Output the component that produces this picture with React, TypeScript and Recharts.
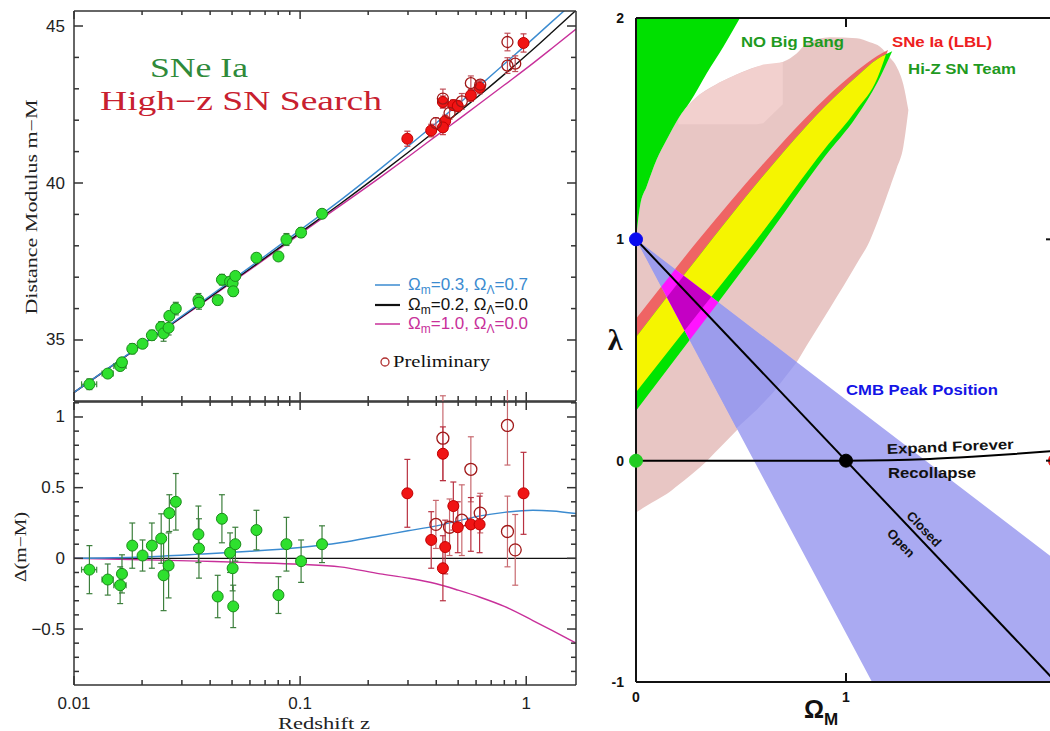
import React from "react";
import { ComposedChart, Line, Scatter, Area, XAxis, YAxis, ErrorBar } from "recharts";

// ---------- left: Hubble diagram ----------
// model curves
const modelZ = [0.01, 0.02, 0.036, 0.06, 0.1, 0.15, 0.226, 0.3, 0.4, 0.5, 0.625, 0.8, 1.07, 1.3, 1.66];
const muLambda = [33.33, 34.86, 36.17, 37.32, 38.5, 39.44, 40.45, 41.17, 41.91, 42.51, 43.11, 43.79, 44.59, 45.14, 45.82];
const muOpen = [33.33, 34.85, 36.14, 37.27, 38.42, 39.33, 40.29, 40.97, 41.68, 42.24, 42.81, 43.46, 44.25, 44.8, 45.5];
const muFlat = [33.33, 34.84, 36.12, 37.24, 38.38, 39.27, 40.18, 40.83, 41.5, 42.02, 42.54, 43.12, 43.81, 44.29, 44.9];
const resLambda = [0, 0.01, 0.03, 0.05, 0.077, 0.11, 0.16, 0.195, 0.23, 0.265, 0.3, 0.325, 0.34, 0.335, 0.317];
const resFlat = [0, -0.01, -0.02, -0.03, -0.042, -0.06, -0.11, -0.14, -0.18, -0.225, -0.275, -0.34, -0.44, -0.51, -0.6];
const resOpenZ = [0.01, 1.66];
const resOpen = [0, 0];

// low-z supernovae (green)
const lowZ = [0.0117, 0.0141, 0.016, 0.0163, 0.0181, 0.0201, 0.0221, 0.0243, 0.0249, 0.0262, 0.0264, 0.0282, 0.0355, 0.0357, 0.0432, 0.0451, 0.049, 0.0503, 0.0506, 0.0517, 0.0641, 0.0802, 0.087, 0.101, 0.125];
const lowMu = [33.59, 33.93, 34.17, 34.29, 34.72, 34.88, 35.15, 35.41, 35.21, 35.39, 35.77, 36.0, 36.28, 36.19, 36.27, 36.92, 36.86, 36.81, 36.55, 37.04, 37.62, 37.66, 38.2, 38.42, 39.02];
const lowRes = [-0.08, -0.15, -0.19, -0.11, 0.09, 0.02, 0.09, 0.14, -0.12, -0.05, 0.32, 0.4, 0.17, 0.07, -0.27, 0.28, 0.04, -0.07, -0.34, 0.1, 0.2, -0.26, 0.1, -0.02, 0.1];
const lowErr = [0.17, 0.11, 0.13, 0.135, 0.16, 0.11, 0.16, 0.175, 0.25, 0.23, 0.13, 0.2, 0.2, 0.21, 0.15, 0.17, 0.14, 0.16, 0.15, 0.12, 0.14, 0.13, 0.19, 0.15, 0.13];
// the three nearest ones also carry redshift error bars
const nearZ = [0.0117, 0.0141, 0.016];
const nearMu = [33.59, 33.93, 34.17];
const nearRes = [-0.08, -0.15, -0.19];
const nearZErr = [0.0009, 0.0008, 0.001];

// high-z supernovae (red, filled)
const hiZ = [0.298, 0.38, 0.428, 0.438, 0.428, 0.476, 0.498, 0.569, 0.622, 0.973];
const hiMu = [41.41, 41.67, 42.58, 41.97, 41.77, 42.48, 42.45, 42.79, 43.04, 44.46];
const hiRes = [0.46, 0.13, 0.74, 0.08, -0.07, 0.37, 0.22, 0.24, 0.24, 0.46];
const hiErr = [0.24, 0.2, 0.19, 0.19, 0.23, 0.17, 0.18, 0.19, 0.2, 0.29];

// preliminary high-z (open circles)
const preZ = [0.3985, 0.428, 0.458, 0.519, 0.569, 0.626, 0.826, 0.826, 0.894];
const preMu = [41.91, 42.69, 42.23, 42.6, 43.18, 43.13, 44.49, 43.74, 43.8];
const preRes = [0.24, 0.85, 0.22, 0.27, 0.63, 0.32, 0.94, 0.19, 0.06];
const preErr = [0.17, 0.3, 0.2, 0.25, 0.23, 0.14, 0.28, 0.25, 0.25];

const zTicks = [0.01, 0.02, 0.03, 0.04, 0.05, 0.06, 0.07, 0.08, 0.09, 0.1, 0.2, 0.3, 0.4, 0.5, 0.6, 0.7, 0.8, 0.9, 1];
const zLabels = [0.01, 0.1, 1];
const muTicks = [34, 35, 36, 37, 38, 39, 40, 41, 42, 43, 44, 45];
const muLabels = [35, 40, 45];
const resTicks = [-0.8, -0.7, -0.6, -0.5, -0.4, -0.3, -0.2, -0.1, 0, 0.1, 0.2, 0.3, 0.4, 0.5, 0.6, 0.7, 0.8, 0.9, 1, 1.1];
const resLabels = [-0.5, 0, 0.5, 1];

// ---------- right: Omega_M / lambda plane ----------
const pinkX = [0, 0.019, 0.051, 0.098, 0.146, 0.2016, 0.257, 0.305, 0.4, 0.479, 0.575, 0.654, 0.701, 0.765, 0.813, 0.924, 1.051, 1.114, 1.162, 1.21, 1.241, 1.273, 1.297];
const pinkLo = [-0.234, -0.223, -0.204, -0.178, -0.151, -0.11, -0.068, -0.03, 0.06, 0.136, 0.23, 0.309, 0.37, 0.445, 0.52, 0.69, 0.89, 0.995, 1.11, 1.237, 1.32, 1.418, 1.584];
const pinkHi = [1.0, 1.15, 1.24, 1.36, 1.45, 1.546, 1.614, 1.655, 1.71, 1.745, 1.78, 1.79, 1.802, 1.84, 1.885, 1.913, 1.908, 1.89, 1.87, 1.82, 1.78, 1.7, 1.584];
const paleX = [0.2016, 0.257, 0.305, 0.4, 0.479, 0.575, 0.606, 0.699];
const paleLo = [1.52, 1.52, 1.52, 1.52, 1.52, 1.52, 1.525, 1.61];
const paleHi = [1.546, 1.614, 1.655, 1.71, 1.745, 1.78, 1.79, 1.8];
const noBangX = [0, 0.019, 0.051, 0.098, 0.146, 0.2016, 0.257, 0.337, 0.416, 0.495];
const noBangLo = [1.0, 1.15, 1.24, 1.36, 1.45, 1.546, 1.62, 1.75, 1.87, 2.0];
const noBangHi = [2, 2, 2, 2, 2, 2, 2, 2, 2, 2];
const lblX = [0, 0.3, 0.6, 0.9, 1.05, 1.15, 1.2];
const lblLo = [0.309, 0.67, 1.03, 1.41, 1.585, 1.73, 1.855];
const lblHi = [0.641, 1.0, 1.335, 1.635, 1.76, 1.83, 1.855];
const hizX = [0, 0.3, 0.6, 0.9, 1.05, 1.15, 1.22];
const hizLo = [0.226, 0.6, 0.98, 1.375, 1.555, 1.71, 1.85];
const hizHi = [0.558, 0.925, 1.28, 1.6, 1.735, 1.815, 1.85];
const bothX = [0, 0.3, 0.6, 0.9, 1.05, 1.15, 1.19];
const bothLo = [0.309, 0.67, 1.03, 1.41, 1.585, 1.73, 1.835];
const bothHi = [0.558, 0.925, 1.28, 1.6, 1.735, 1.815, 1.835];
const cmbX = [0, 1.124, 2];
const cmbLo = [1, -1, -1];
const cmbHi = [1, 0.185, -0.45];
const cmbDeepX = [0, 0.479, 0.575, 0.654, 0.765];
const cmbDeepLo = [1, 0.147, 0.23, 0.309, 0.445];
const cmbDeepHi = [1, 0.653, 0.583, 0.526, 0.445];
const overlapX = [0.1205, 0.1865, 0.2557, 0.3925];
const overlapLo = [0.7855, 0.668, 0.545, 0.7154];
const overlapHi = [0.7855, 0.8648, 0.8146, 0.7154];
const coreX = [0.1472, 0.2269, 0.2316, 0.3584];
const coreLo = [0.738, 0.5961, 0.5877, 0.7402];
const coreHi = [0.738, 0.8355, 0.8321, 0.7402];
const flatX = [0, 2];
const flatY = [1, -1];
const foreverX = [0, 1, 1.2, 1.4, 1.6, 1.8, 2];
const foreverY = [0, 0, 0.002, 0.008, 0.018, 0.03, 0.045];

const SANS = "'Liberation Sans', Arial, sans-serif";
const SERIF = "'Liberation Serif', 'Times New Roman', serif";
const AX = "#333";
const BLUE = "#3b8bd0";
const MAG = "#c8309a";

const rows = (xs: number[], ys: number[], es?: number[]) =>
  xs.map((z, i) => ({ z, v: ys[i], e: es ? es[i] : 0 }));
const rangeRows = (xs: number[], lo: number[], hi: number[]) =>
  xs.map((x, i) => ({ x, r: [lo[i], hi[i]] }));
const xyRows = (xs: number[], ys: number[]) => xs.map((x, i) => ({ x, y: ys[i] }));

type TickCfg = {
  side: "top" | "bottom" | "left" | "right";
  major: number[];
  majorLen: number;
  minorLen: number;
  label?: (v: number) => string;
  labelOn?: number[];
  offset?: number;
  font?: any;
  color?: string;
  width?: number;
};

const isIn = (list: number[], v: number) => list.some((m) => Math.abs(m - v) < 1e-6);

// ticks point into the plot, labels sit outside
function makeTick(c: TickCfg) {
  return (p: any) => {
    const { x, y, payload } = p;
    const v = Number(payload.value);
    const major = isIn(c.major, v);
    const len = major ? c.majorLen : c.minorLen;
    const dx = c.side === "left" ? len : c.side === "right" ? -len : 0;
    const dy = c.side === "bottom" ? -len : c.side === "top" ? len : 0;
    let label = null;
    if (c.label && isIn(c.labelOn ?? c.major, v)) {
      const off = c.offset ?? 10;
      const lx = c.side === "left" ? x - off : c.side === "right" ? x + off : x;
      const ly = c.side === "bottom" ? y + off : c.side === "top" ? y - off : y;
      const anchor = c.side === "left" ? "end" : c.side === "right" ? "start" : "middle";
      label = (
        <text x={lx} y={ly} textAnchor={anchor} dominantBaseline="central" {...c.font}>
          {c.label(v)}
        </text>
      );
    }
    return (
      <g>
        {len > 0 && (
          <line x1={x} y1={y} x2={x + dx} y2={y + dy} stroke={c.color ?? AX} strokeWidth={c.width ?? 1.5} />
        )}
        {label}
      </g>
    );
  };
}

const dot = (r: number, fill: string, stroke: string, sw = 1) => (p: any) =>
  <circle cx={p.cx} cy={p.cy} r={r} fill={fill} stroke={stroke} strokeWidth={sw} />;
const noDot = () => <g />;

const numFont = { fontFamily: SANS, fontSize: 17, fill: "#222" };
const fmtRes = (v: number) => (v < 0 ? "\u2212" + String(-v) : String(v));

const axisLine = { stroke: AX, strokeWidth: 1.5 };

function zAxes(withLabels: boolean) {
  return [
    <XAxis key="xb" xAxisId="b" dataKey="z" type="number" scale="log" domain={[0.01, 1.66]} allowDataOverflow
      ticks={zTicks} interval={0} height={1} tickSize={0} tickMargin={0} axisLine={axisLine} tickLine={false}
      tick={makeTick({ side: "bottom", major: zLabels, majorLen: 9, minorLen: 5, label: withLabels ? (v) => String(v) : undefined, offset: 18, font: numFont })} />,
    <XAxis key="xt" xAxisId="t" orientation="top" dataKey="z" type="number" scale="log" domain={[0.01, 1.66]} allowDataOverflow
      ticks={zTicks} interval={0} height={1} tickSize={0} tickMargin={0} axisLine={axisLine} tickLine={false}
      tick={makeTick({ side: "top", major: zLabels, majorLen: 8, minorLen: 4 })} />,
  ];
}

// model curves go on the top/right axes (same scales) so that both frames carry ticks
const model = (xs: number[], ys: number[], color: string, curve: "monotone" | "linear" = "monotone") => (
  <Line xAxisId="t" yAxisId="r" data={rows(xs, ys)} dataKey="v" type={curve} stroke={color}
    strokeWidth={1.4} dot={false} activeDot={false} isAnimationActive={false} />
);

function HubbleTop() {
  return (
    <ComposedChart width={600} height={420} margin={{ top: 10, right: 23, bottom: 18, left: 73 }}>
      {model(modelZ, muFlat, MAG)}
      {model(modelZ, muOpen, "#111")}
      {model(modelZ, muLambda, BLUE)}
      <Scatter xAxisId="b" yAxisId="l" data={rows(nearZ, nearMu, nearZErr)} dataKey="v" shape={noDot} isAnimationActive={false}>
        <ErrorBar dataKey="e" direction="x" width={3} stroke="#3c8a3c" strokeWidth={1.2} />
      </Scatter>
      <Scatter xAxisId="b" yAxisId="l" data={rows(lowZ, lowMu, lowErr)} dataKey="v" shape={dot(5.5, "#2ee02e", "#1b8c1b")} isAnimationActive={false}>
        <ErrorBar dataKey="e" direction="y" width={3} stroke="#3c7f3c" strokeWidth={1.2} />
      </Scatter>
      <Scatter xAxisId="b" yAxisId="l" data={rows(hiZ, hiMu, hiErr)} dataKey="v" shape={dot(5.5, "#f01414", "#c00000")} isAnimationActive={false}>
        <ErrorBar dataKey="e" direction="y" width={3} stroke="#c0404a" strokeWidth={1.2} />
      </Scatter>
      <Scatter xAxisId="b" yAxisId="l" data={rows(preZ, preMu, preErr)} dataKey="v" shape={dot(5.5, "none", "#a01818", 1.3)} isAnimationActive={false}>
        <ErrorBar dataKey="e" direction="y" width={3} stroke="#c0505a" strokeWidth={1.2} />
      </Scatter>
      {zAxes(false)}
      <YAxis yAxisId="l" type="number" domain={[33.057, 45.478]} allowDataOverflow ticks={muTicks} interval={0}
        width={1} tickSize={0} tickMargin={0} axisLine={axisLine} tickLine={false}
        tick={makeTick({ side: "left", major: muLabels, majorLen: 9, minorLen: 5, label: (v) => String(v), offset: 9, font: numFont })} />
      <YAxis yAxisId="r" orientation="right" type="number" domain={[33.057, 45.478]} allowDataOverflow ticks={muTicks} interval={0}
        width={1} tickSize={0} tickMargin={0} axisLine={axisLine} tickLine={false}
        tick={makeTick({ side: "right", major: muLabels, majorLen: 9, minorLen: 5 })} />
    </ComposedChart>
  );
}

function HubbleResiduals() {
  return (
    <ComposedChart width={600} height={341} margin={{ top: 11, right: 23, bottom: 45, left: 73 }}>
      {model(resOpenZ, resOpen, "#111", "linear")}
      {model(modelZ, resFlat, MAG)}
      {model(modelZ, resLambda, BLUE)}
      <Scatter xAxisId="b" yAxisId="l" data={rows(nearZ, nearRes, nearZErr)} dataKey="v" shape={noDot} isAnimationActive={false}>
        <ErrorBar dataKey="e" direction="x" width={3} stroke="#3c8a3c" strokeWidth={1.2} />
      </Scatter>
      <Scatter xAxisId="b" yAxisId="l" data={rows(lowZ, lowRes, lowErr)} dataKey="v" shape={dot(5.5, "#2ee02e", "#1b8c1b")} isAnimationActive={false}>
        <ErrorBar dataKey="e" direction="y" width={3} stroke="#3c7f3c" strokeWidth={1.2} />
      </Scatter>
      <Scatter xAxisId="b" yAxisId="l" data={rows(preZ, preRes, preErr)} dataKey="v" shape={dot(6, "none", "#a01818", 1.3)} isAnimationActive={false}>
        <ErrorBar dataKey="e" direction="y" width={3} stroke="#c86a70" strokeWidth={1.2} />
      </Scatter>
      <Scatter xAxisId="b" yAxisId="l" data={rows(hiZ, hiRes, hiErr)} dataKey="v" shape={dot(5.5, "#f01414", "#c00000")} isAnimationActive={false}>
        <ErrorBar dataKey="e" direction="y" width={3} stroke="#b83040" strokeWidth={1.2} />
      </Scatter>
      {zAxes(true)}
      <YAxis yAxisId="l" type="number" domain={[-0.896, 1.106]} allowDataOverflow ticks={resTicks} interval={0}
        width={1} tickSize={0} tickMargin={0} axisLine={axisLine} tickLine={false}
        tick={makeTick({ side: "left", major: resLabels, majorLen: 9, minorLen: 5, label: fmtRes, offset: 9, font: numFont })} />
      <YAxis yAxisId="r" orientation="right" type="number" domain={[-0.896, 1.106]} allowDataOverflow ticks={resTicks} interval={0}
        width={1} tickSize={0} tickMargin={0} axisLine={axisLine} tickLine={false}
        tick={makeTick({ side: "right", major: resLabels, majorLen: 9, minorLen: 5 })} />
    </ComposedChart>
  );
}

const boldNum = { fontFamily: SANS, fontSize: 14, fontWeight: 700, fill: "#111" };
const frame = { stroke: "#111", strokeWidth: 2 };

const region = (xs: number[], lo: number[], hi: number[], fill: string, curve: "monotone" | "linear" = "monotone") => (
  <Area xAxisId="b" yAxisId="l" data={rangeRows(xs, lo, hi)} dataKey="r" type={curve} stroke="none"
    fill={fill} fillOpacity={1} dot={false} activeDot={false} isAnimationActive={false} />
);

function OmegaPlane() {
  return (
    <ComposedChart width={520} height={731} margin={{ top: 17, right: 23, bottom: 48, left: 75 }}>
      {region(pinkX, pinkLo, pinkHi, "#e8c6c4")}
      {region(paleX, paleLo, paleHi, "#f2d0ce", "linear")}
      {region(noBangX, noBangLo, noBangHi, "#00e000")}
      {region(lblX, lblLo, lblHi, "#ef6464")}
      {region(hizX, hizLo, hizHi, "#00e400")}
      {region(bothX, bothLo, bothHi, "#f5f500")}
      {region(cmbX, cmbLo, cmbHi, "#aaaaf2", "linear")}
      {region(cmbDeepX, cmbDeepLo, cmbDeepHi, "#9c9cec", "linear")}
      {region(overlapX, overlapLo, overlapHi, "#ff14ff", "linear")}
      {region(coreX, coreLo, coreHi, "#c400c4", "linear")}
      <Line xAxisId="t" yAxisId="r" data={xyRows(flatX, flatY)} dataKey="y" type="linear" stroke="#000" strokeWidth={2} dot={false} activeDot={false} isAnimationActive={false} />
      <Line xAxisId="t" yAxisId="r" data={xyRows(foreverX, foreverY)} dataKey="y" type="monotone" stroke="#000" strokeWidth={2} dot={false} activeDot={false} isAnimationActive={false} />
      <Scatter xAxisId="b" yAxisId="l" data={xyRows([0], [1])} dataKey="y" shape={dot(6.5, "#0a0af0", "#0a0af0")} isAnimationActive={false} />
      <Scatter xAxisId="b" yAxisId="l" data={xyRows([0], [0])} dataKey="y" shape={dot(6.5, "#22cc22", "#22cc22")} isAnimationActive={false} />
      <Scatter xAxisId="b" yAxisId="l" data={xyRows([1], [0])} dataKey="y" shape={dot(6.5, "#000", "#000")} isAnimationActive={false} />
      <Scatter xAxisId="b" yAxisId="l" data={xyRows([2], [0])} dataKey="y" shape={dot(7.5, "#ee1111", "#ee1111")} isAnimationActive={false} />
      <XAxis xAxisId="b" dataKey="x" type="number" domain={[0, 2]} ticks={[0, 1, 2]} interval={0} height={1}
        tickSize={0} tickMargin={0} axisLine={frame} tickLine={false}
        tick={makeTick({ side: "bottom", major: [1, 2], majorLen: 9, minorLen: 0, label: (v) => String(v), labelOn: [0, 1], offset: 15, font: boldNum, color: "#111", width: 2 })} />
      <XAxis xAxisId="t" orientation="top" dataKey="x" type="number" domain={[0, 2]} ticks={[1]} interval={0} height={1}
        tickSize={0} tickMargin={0} axisLine={frame} tickLine={false}
        tick={makeTick({ side: "top", major: [1], majorLen: 9, minorLen: 0, color: "#111", width: 2 })} />
      <YAxis yAxisId="l" type="number" domain={[-1, 2]} ticks={[-1, 0, 1, 2]} interval={0} width={1}
        tickSize={0} tickMargin={0} axisLine={frame} tickLine={false}
        tick={makeTick({ side: "left", major: [-1, 0, 1, 2], majorLen: 0, minorLen: 0, label: (v) => String(v), offset: 12, font: boldNum })} />
      <YAxis yAxisId="r" orientation="right" type="number" domain={[-1, 2]} ticks={[-1, 0, 1, 2]} interval={0} width={1}
        tickSize={0} tickMargin={0} axisLine={frame} tickLine={false}
        tick={makeTick({ side: "right", major: [-1, 0, 1, 2], majorLen: 10, minorLen: 0, color: "#111", width: 2 })} />
    </ComposedChart>
  );
}

function Annotations() {
  const bold = { fontFamily: SANS, fontWeight: 700, fontSize: 14 };
  const leg = { fontFamily: SANS, fontSize: 17 };
  const sub = (s: string) => <tspan fontSize={12} dy={4}>{s}</tspan>;
  const back = (s: string) => <tspan dy={-4}>{s}</tspan>;
  return (
    <svg width={1050} height={731} style={{ position: "absolute", left: 0, top: 0, pointerEvents: "none" }}>
      {/* left panel titles */}
      <text x={150} y={77} fontFamily={SERIF} fontSize={27} fill="#2f8a3a" textLength={98} lengthAdjust="spacingAndGlyphs">SNe Ia</text>
      <text x={100} y={110} fontFamily={SERIF} fontSize={27} fill="#c8202f" textLength={282} lengthAdjust="spacingAndGlyphs">High{"\u2212"}z SN Search</text>
      <text transform="translate(37,207) rotate(-90)" textAnchor="middle" fontFamily={SERIF} fontSize={16} fill="#222" textLength={215} lengthAdjust="spacingAndGlyphs">Distance Modulus m{"\u2212"}M</text>
      <text transform="translate(26,547) rotate(-90)" textAnchor="middle" fontFamily={SERIF} fontSize={16} fill="#222" textLength={70} lengthAdjust="spacingAndGlyphs">{"\u0394"}(m{"\u2212"}M)</text>
      <text x={324} y={729} textAnchor="middle" fontFamily={SERIF} fontSize={16} fill="#222" textLength={92} lengthAdjust="spacingAndGlyphs">Redshift z</text>

      {/* legend */}
      <line x1={375} x2={400} y1={285} y2={285} stroke={BLUE} strokeWidth={1.5} />
      <line x1={375} x2={400} y1={305} y2={305} stroke="#111" strokeWidth={2.2} />
      <line x1={375} x2={400} y1={324} y2={324} stroke={MAG} strokeWidth={1.5} />
      <text x={408} y={290} {...leg} fill={BLUE}>{"\u03A9"}{sub("m")}{back("=0.3,  \u03A9")}{sub("\u039B")}{back("=0.7")}</text>
      <text x={408} y={310} {...leg} fill="#111">{"\u03A9"}{sub("m")}{back("=0.2,  \u03A9")}{sub("\u039B")}{back("=0.0")}</text>
      <text x={408} y={329} {...leg} fill={MAG}>{"\u03A9"}{sub("m")}{back("=1.0,  \u03A9")}{sub("\u039B")}{back("=0.0")}</text>
      <circle cx={385} cy={362} r={4} fill="none" stroke="#b03030" strokeWidth={1.3} />
      <text x={393} y={367} fontFamily={SERIF} fontSize={16} fill="#111" textLength={97} lengthAdjust="spacingAndGlyphs">Preliminary</text>

      {/* right panel labels */}
      <text x={741} y={47} {...bold} fill="#1f9a1f" textLength={103} lengthAdjust="spacingAndGlyphs">NO Big Bang</text>
      <text x={892} y={47} {...bold} fill="#ee2020" textLength={100} lengthAdjust="spacingAndGlyphs">SNe Ia (LBL)</text>
      <text x={908} y={74} {...bold} fill="#1f9a1f" textLength={108} lengthAdjust="spacingAndGlyphs">Hi-Z SN Team</text>
      <text x={846} y={395} {...bold} fill="#1414e6" textLength={152} lengthAdjust="spacingAndGlyphs">CMB Peak Position</text>
      <text x={887} y={454} {...bold} fill="#111" transform="rotate(-2.3 887 454)" textLength={127} lengthAdjust="spacingAndGlyphs">Expand Forever</text>
      <text x={888} y={478} {...bold} fill="#111" textLength={88} lengthAdjust="spacingAndGlyphs">Recollapse</text>
      <text x={0} y={0} transform="translate(924,529) rotate(46.5)" textAnchor="middle" dominantBaseline="central" {...bold} fontSize={13} fill="#111">Closed</text>
      <text x={0} y={0} transform="translate(901,543) rotate(46.5)" textAnchor="middle" dominantBaseline="central" {...bold} fontSize={13} fill="#111">Open</text>
      <text x={615} y={350} textAnchor="middle" fontFamily={SERIF} fontWeight={700} fontSize={30} fill="#111">{"\u03BB"}</text>
      <text x={804} y={718} fontFamily={SANS} fontWeight={700} fontSize={25} fill="#111">{"\u03A9"}<tspan fontSize={17} dy={7}>M</tspan></text>
    </svg>
  );
}

export default function App() {
  return (
    <div style={{ position: "absolute", left: 0, top: 0, width: 1050, height: 731, overflow: "hidden", background: "#fff" }}>
      <div style={{ position: "absolute", left: 0, top: 0 }}>
        <HubbleTop />
      </div>
      <div style={{ position: "absolute", left: 0, top: 390 }}>
        <HubbleResiduals />
      </div>
      <div style={{ position: "absolute", left: 560, top: 0 }}>
        <OmegaPlane />
      </div>
      <Annotations />
    </div>
  );
}
